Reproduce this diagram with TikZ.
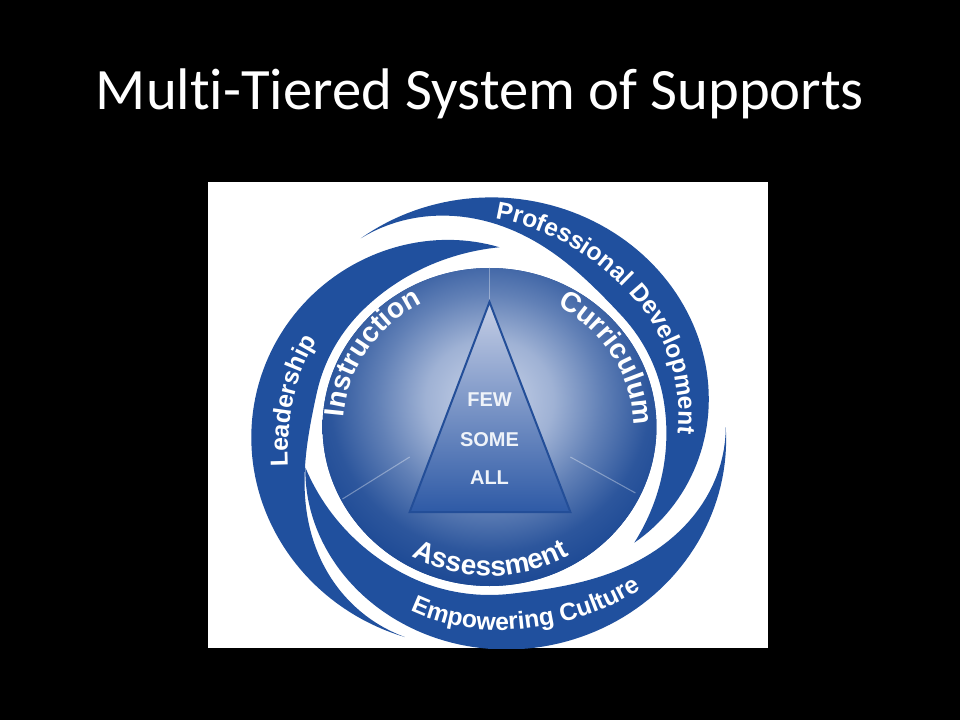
\documentclass[tikz,border=0pt]{standalone}
\usepackage{fontspec}
\newfontfamily\titlefont{Carlito}[Ligatures=NoCommon]
\newfontfamily\swirlfont{Liberation Sans}
\usetikzlibrary{decorations.text,positioning,calc}
\definecolor{armblue}{HTML}{20509E}
\definecolor{circdark}{HTML}{1B4894}
\definecolor{glowlight}{HTML}{CBD5EA}
\definecolor{tritop}{HTML}{C6CFE6}
\definecolor{tribot}{HTML}{2E5AA6}
\definecolor{triline}{HTML}{234E98}
\pgfdeclareradialshading{glow}{\pgfpoint{0bp}{0bp}}{color(0bp)=(glowlight); color(8bp)=(glowlight!75!circdark); color(14bp)=(glowlight!40!circdark); color(20bp)=(glowlight!10!circdark); color(25bp)=(circdark); color(50bp)=(circdark)}
\newcommand{\swirlarm}[2]{\fill[armfill] plot[domain=0:1, samples=90] ({(#1)-((#1)-(#2))*\x}:{armout(\x)}) -- plot[domain=0:1, samples=90] ({(#2)+((#1)-(#2))*\x}:{armin(1-\x)}) -- cycle;}
\newcommand{\armlabel}[6]{\path[outerlabel={#6}] plot[domain=0:1, samples=120] ({(#3)+((#4)-(#3))*\x}:{armmid(((#1)-((#3)+((#4)-(#3))*\x))/((#1)-(#2)))+(#5)});}

\begin{document}
\begin{tikzpicture}[x=0.75pt, y=0.75pt,
  declare function={armout(\s)=225+40*\s-85*\s*\s;
    armin(\s)=ifthenelse(\s<0.5,168+28.5*(1+cos(360*\s)),168+12*(max(0,(\s-0.7)/0.3))^2);
    armmid(\s)=(armout(\s)+armin(\s))/2;}]
  \tikzset{titletext/.style={text=white, font=\titlefont\fontsize{44}{52}\selectfont, anchor=base, inner sep=0pt},
    armfill/.style={fill=armblue},
    tiertext/.style={text=glowlight!30!white, font=\swirlfont\bfseries\fontsize{15}{17}\selectfont, inner sep=0pt},
    faintline/.style={draw=white, line width=0.8, opacity=0.35},
    innerlabel/.style={decorate, decoration={text along path, text align=center,
      text={|\swirlfont\bfseries\fontsize{21}{25}\selectfont\color{white}|#1}}},
    outerlabel/.style={decorate, decoration={text along path, text align=center,
      text={|\swirlfont\bfseries\fontsize{18.5}{22}\selectfont\color{white}|#1}}}}
  \fill[black] (0,0) rectangle (960,-720);
  \useasboundingbox (0,0) rectangle (960,-720);
  \node[titletext] (title) at (480,-110) {Multi-Tiered System of Supports};
  \fill[white] (208,-182) rectangle (768,-648);
  \begin{scope}
    \clip (208,-182) rectangle (768,-648);
    \begin{scope}[shift={(489.5,-427)}, xscale=1.05]
      \swirlarm{123}{-40}
      \swirlarm{0}{-167}
      \swirlarm{249}{87}
      \fill[circdark] (0,0) circle (159);
      \begin{scope}
        \clip (0,0) circle (159);
        \shade[shading=glow] (0,27) circle (190);
      \end{scope}
      \coordinate (apex) at (0,125);
      \coordinate (baseL) at (-76,-85);
      \coordinate (baseR) at (77,-85);
      \coordinate (rimtop) at (0,159);
      \coordinate (rimL) at (-140,-72);
      \coordinate (rimR) at (139,-66);
      \coordinate (edgeL) at (-76,-30);
      \coordinate (edgeR) at (77,-30);
      \draw[faintline] (apex) -- (rimtop);
      \draw[faintline] (edgeL) -- (rimL);
      \draw[faintline] (edgeR) -- (rimR);
      \shadedraw[top color=tritop, bottom color=tribot, draw=triline, line width=1.5] (apex) -- (baseL) -- (baseR) -- cycle;
      \node[tiertext] (few) at (0,27) {FEW};
      \node[tiertext] (some) at (0,-13) {SOME};
      \node[tiertext] (all) at (0,-51) {ALL};
      \path[innerlabel=Instruction] (192:139) arc[start angle=192, end angle=102, radius=139];
      \path[innerlabel=Curriculum] (76:137) arc[start angle=76, end angle=-14, radius=137];
      \path[innerlabel=Assessment] (-135:149) arc[start angle=-135, end angle=-44, radius=149];
      \armlabel{123}{-40}{101}{-18}{-8}{Professional Development}
      \armlabel{249}{87}{212}{130}{-8}{Leadership}
      \armlabel{0}{-167}{-140}{-24}{8}{Empowering Culture}
    \end{scope}
  \end{scope}
\end{tikzpicture}
\end{document}
